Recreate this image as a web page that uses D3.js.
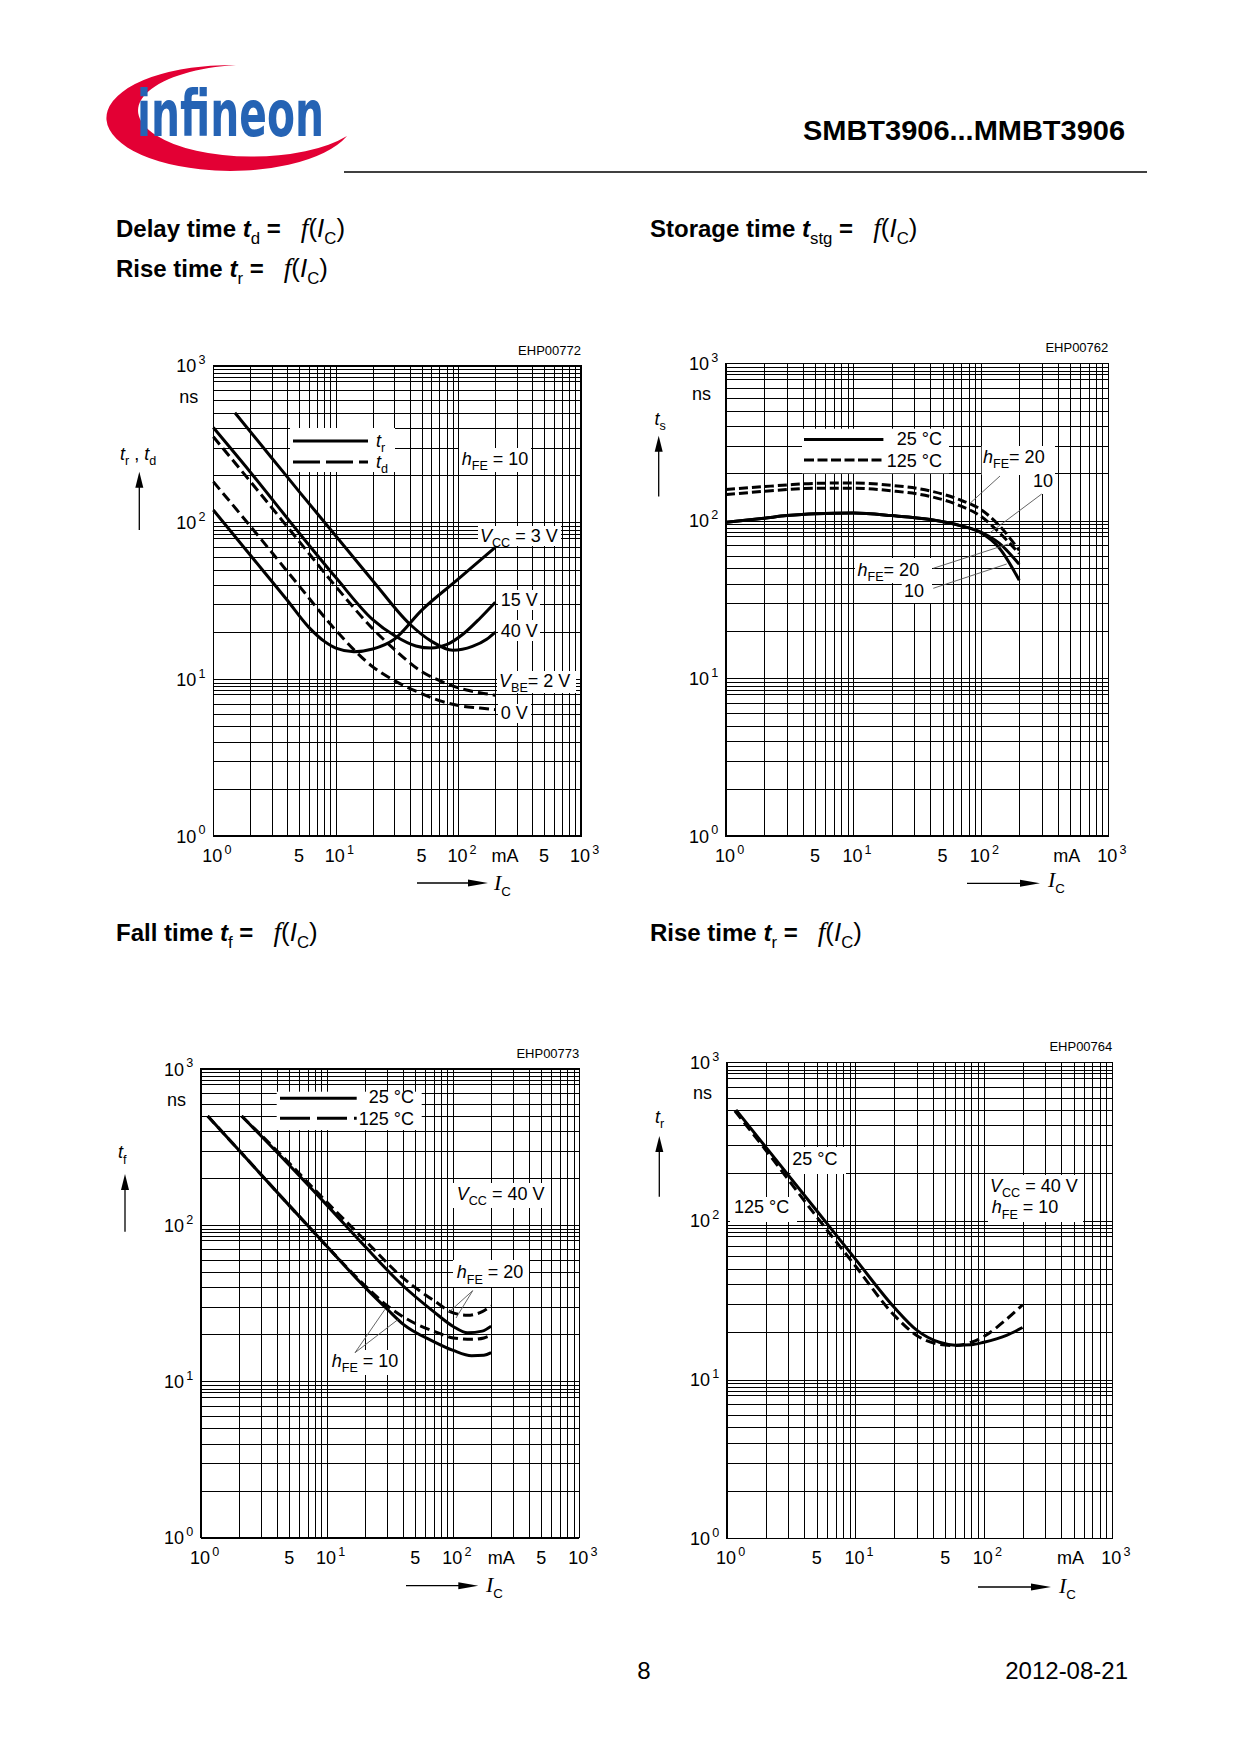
<!DOCTYPE html>
<html>
<head>
<meta charset="utf-8">
<script src="https://cdn.jsdelivr.net/npm/d3@7"></script>
<style>
body { margin: 0; background: #fff; }
svg text { font-family: "Liberation Sans", Arial, sans-serif; fill: #000; }
</style>
</head>
<body>
<svg id="page"></svg>
<script>
// all x values are I_C in mA, all y values are switching times in ns

// delay / rise time, hFE = 10  (EHP00772)
let tr3V  = [[1,120],[2,62],[4,32],[6,21.5],[8,17.5],[10,15.8],[14,15],[20,15.6],[30,18],[50,27.5],[100,43.6],[200,69.5]]
let tr15V = [[1,403],[2,210],[5,86],[10,44.5],[20,24],[30,19],[45,16.3],[60,15.8],[80,16.6],[110,19.5],[150,24.5],[200,31]]
let tr40V = [[1.5,501],[3,258],[5,158],[10,82],[20,42.5],[40,22.5],[60,17.5],[90,15.3],[130,16.2],[170,18],[200,20]]
let td2V  = [[1,352],[2,183],[5,76],[10,39],[20,21],[30,15.5],[50,11.2],[70,9.8],[100,8.8],[150,8.2],[200,7.9]]
let td0V  = [[1,182],[2,95],[5,39.5],[10,20.5],[20,12],[30,9.8],[50,8.1],[70,7.3],[100,6.8],[150,6.55],[200,6.4]]

// storage time (EHP00762)
let icStg    = [1, 2, 3, 5, 10, 20, 40, 70, 100, 140, 200]
let ts25h20  = [98, 104, 108, 111, 112, 108, 102, 93, 85, 72, 53]
let ts25h10  = [98, 104, 108, 111, 112, 108, 102, 93, 84, 67, 42]
let ts125h20 = [158, 165, 169, 173, 174, 168, 155, 135, 118, 93, 65]
let ts125h10 = [147, 154, 158, 161, 161, 155, 143, 124, 107, 84, 62]

// fall time, VCC = 40 V (EHP00773)
let tf25h10  = [[1.13,500],[2,302],[5,134],[10,73],[20,40],[30,29],[40,23.3],[70,18],[100,15.8],[140,14.6],[175,14.7],[200,15.3]]
let tf125h10 = [[1.13,500],[2,302],[5,134],[10,73],[20,41],[30,30.5],[50,23.5],[70,21],[100,19],[140,18.6],[175,19],[200,19.8]]
let tf25h20  = [[2.1,500],[5,243],[10,134],[20,73],[40,41],[70,28],[100,22.5],[130,20.5],[170,21],[200,22.6]]
let tf125h20 = [[2.1,500],[5,250],[10,140],[20,80],[40,46],[70,33],[100,27.5],[130,26.5],[170,28],[200,30.4]]

// rise time, VCC = 40 V, hFE = 10 (EHP00764)
let tr25  = [[1.175,501],[2,293],[5,116],[10,57.5],[20,28.6],[30,20.5],[45,17.2],[60,16.5],[80,16.6],[100,17.2],[150,19],[200,21.3]]
let tr125 = [[1.15,495],[2,280],[5,106],[10,52],[20,25.5],[30,19],[45,16.7],[60,16.4],[80,17.2],[100,18.7],[150,24],[200,29.6]]

// log grid and tick labels
let decades = [1, 10, 100, 1000]
let vGrid = []
decades.slice(0, 3).forEach(d => { for (let m = 1; m < 10; m++) vGrid.push(m * d) })
vGrid.push(1000)
let hGrid = vGrid.concat([8.5, 9.5, 85, 95, 850, 950])

let svg = d3.select('#page').attr('width', 1240).attr('height', 1754)

// text with italic / sub / sup pieces
let rich = (g, x, y, parts, size, anchor) => {
    let t = g.append('text').attr('x', x).attr('y', y)
        .attr('font-size', size).attr('text-anchor', anchor || 'start')
    let shift = 0
    parts.forEach(([s, k]) => {
        let ks = (k || '').split(' ')
        let sp = t.append('tspan').text(s)
        let want = ks.includes('sub') ? size * 0.3 : ks.includes('sup') ? -size * 0.45 : 0
        sp.attr('dy', want - shift)
        shift = want
        if (ks.includes('sub') || ks.includes('sup')) sp.attr('font-size', size * 0.7)
        if (ks.includes('sup')) sp.attr('dx', size * 0.12)
        if (ks.includes('big')) sp.attr('font-size', size * 1.08)
        if (ks.includes('i')) sp.attr('font-style', 'italic')
        if (ks.includes('b')) sp.attr('font-weight', 'bold')
        if (ks.includes('f')) sp.style('font-family', '"Liberation Serif", serif')
            .attr('font-style', 'italic').attr('font-size', size * 1.15)
    })
    return t
}

let upArrow = (x, y0, y1) => {
    svg.append('line').attr('x1', x).attr('x2', x).attr('y1', y0).attr('y2', y1 + 10)
        .attr('stroke', '#000').attr('stroke-width', 1.3)
    svg.append('polygon').attr('points', `${x},${y1} ${x - 4},${y1 + 16} ${x + 4},${y1 + 16}`)
}
let rightArrow = (x0, x1, y) => {
    svg.append('line').attr('x1', x0).attr('x2', x1 - 10).attr('y1', y).attr('y2', y)
        .attr('stroke', '#000').attr('stroke-width', 1.3)
    svg.append('polygon').attr('points', `${x1},${y} ${x1 - 20},${y - 3.5} ${x1 - 20},${y + 3.5}`)
}

let hfe = n => [['h', 'i'], ['FE', 'sub'], [' = ' + n, '']]
let hfeTight = n => [['h', 'i'], ['FE', 'sub'], ['= ' + n, '']]
let vcc = v => [['V', 'i'], ['CC', 'sub'], [' = ' + v, '']]

let charts = [
    {
        code: 'EHP00772', l: 213.3, r: 581, t: 365.7, b: 836, fives: [5, 50, 500], unitAt: 240,
        series: [
            { pts: tr3V }, { pts: tr15V }, { pts: tr40V },
            { pts: td2V, dash: '10,5' }, { pts: td0V, dash: '10,5' }
        ],
        boxes: [[290, 428, 395, 472], [459, 448, 531, 472], [478, 526, 561, 546],
                [498, 590, 540, 610], [498, 620, 540, 641], [497, 671, 576, 693], [498, 704, 531, 723]],
        legend: [{ x0: 293, x1: 368, y: 441 }, { x0: 293, x1: 368, y: 462, dash: '27,6' }],
        labels: [
            { x: 376, y: 446.7, p: [['t', 'i'], ['r', 'sub']] },
            { x: 376, y: 467.5, p: [['t', 'i'], ['d', 'sub']] },
            { x: 461.7, y: 465, p: hfe(10) },
            { x: 480, y: 541.7, p: vcc('3 V') },
            { x: 500.7, y: 606, p: [['15 V', '']] },
            { x: 500.7, y: 636.7, p: [['40 V', '']] },
            { x: 499, y: 686.7, p: [['V', 'i'], ['BE', 'sub'], ['= 2 V', '']] },
            { x: 500.7, y: 719, p: [['0 V', '']] }
        ],
        leaders: [],
        yTitle: { x: 120, y: 460, p: [['t', 'i'], ['r', 'sub'], [' , ', ''], ['t', 'i'], ['d', 'sub']] },
        yArrow: [139.3, 530, 471.7], xArrow: [417, 488, 883], icAt: [494, 890]
    },
    {
        code: 'EHP00762', l: 726, r: 1108.3, t: 363.3, b: 836, fives: [5, 50], unitAt: 472,
        series: [
            { pts: d3.zip(icStg, ts25h20) }, { pts: d3.zip(icStg, ts25h10) },
            { pts: d3.zip(icStg, ts125h20), dash: '9,4' }, { pts: d3.zip(icStg, ts125h10), dash: '9,4' }
        ],
        boxes: [[802, 428.7, 949, 473.3], [981.7, 446, 1055, 475], [1020, 475, 1057, 494],
                [855, 558, 932, 583], [901.7, 583, 932, 603]],
        legend: [{ x0: 804, x1: 883.4, y: 439.4 }, { x0: 804, x1: 883.4, y: 460, dash: '10,3.5' }],
        labels: [
            { x: 942, y: 444.8, p: [['25 °C', '']], a: 'end' },
            { x: 942, y: 467.3, p: [['125 °C', '']], a: 'end' },
            { x: 983, y: 463, p: hfeTight(20) },
            { x: 1033, y: 486.7, p: [['10', '']] },
            { x: 857.5, y: 575.5, p: hfeTight(20) },
            { x: 904, y: 597.3, p: [['10', '']] }
        ],
        leaders: [[1000, 476, 970, 503.3], [1041.7, 494, 990, 532.7],
                  [933.3, 568.3, 1008.3, 544], [933.3, 588.3, 1006.7, 564]],
        yTitle: { x: 654.6, y: 425, p: [['t', 'i'], ['s', 'sub']] },
        yArrow: [658.7, 496.5, 435.8], xArrow: [967, 1040, 883.3], icAt: [1048, 887]
    },
    {
        code: 'EHP00773', l: 201, r: 579.3, t: 1069, b: 1537.7, fives: [5, 50, 500], unitAt: 240,
        series: [
            { pts: tf25h10 }, { pts: tf125h10, dash: '10,5' },
            { pts: tf25h20 }, { pts: tf125h20, dash: '10,5' }
        ],
        boxes: [[276.7, 1091.7, 421.7, 1130], [453, 1183, 548, 1208], [453, 1260, 529, 1287],
                [329, 1350, 403, 1375]],
        legend: [{ x0: 280, x1: 356.7, y: 1098.3 }, { x0: 280, x1: 356.7, y: 1118.3, dash: '30,7' }],
        labels: [
            { x: 414, y: 1103.3, p: [['25 °C', '']], a: 'end' },
            { x: 414, y: 1125, p: [['125 °C', '']], a: 'end' },
            { x: 456.7, y: 1200, p: vcc('40 V') },
            { x: 456.7, y: 1278.3, p: hfe(20) },
            { x: 331.7, y: 1366.7, p: hfe(10) }
        ],
        leaders: [[472.7, 1290.7, 448.3, 1312.7], [472.7, 1290.7, 456, 1318],
                  [355, 1352.7, 385, 1309.3], [355, 1352.7, 398.3, 1319.3]],
        yTitle: { x: 118, y: 1158.3, p: [['t', 'i'], ['f', 'sub']] },
        yArrow: [125, 1231.7, 1174], xArrow: [406, 478.3, 1585.7], icAt: [486, 1592]
    },
    {
        code: 'EHP00764', l: 727, r: 1112.3, t: 1062.3, b: 1538.3, fives: [5, 50], unitAt: 472,
        series: [{ pts: tr25 }, { pts: tr125, dash: '10,5' }],
        boxes: [[790.5, 1147, 846, 1174], [730, 1197, 797, 1222], [988, 1175, 1083, 1222]],
        legend: [],
        labels: [
            { x: 792.3, y: 1165, p: [['25 °C', '']] },
            { x: 734, y: 1213.3, p: [['125 °C', '']] },
            { x: 990, y: 1191.7, p: vcc('40 V') },
            { x: 991.7, y: 1213.3, p: hfe(10) }
        ],
        leaders: [],
        yTitle: { x: 655, y: 1123, p: [['t', 'i'], ['r', 'sub']] },
        yArrow: [659.3, 1196.7, 1136], xArrow: [978, 1051, 1587], icAt: [1059, 1593]
    }
]

let drawChart = (c) => {
    let g = svg.append('g')
    let x = d3.scaleLog().domain([1, 1000]).range([c.l, c.r])
    let y = d3.scaleLog().domain([1, 1000]).range([c.b, c.t])

    // grid from the axes' tick lines
    let grid = g.append('g').attr('shape-rendering', 'crispEdges')
    grid.append('g').attr('transform', `translate(0,${c.b})`)
        .call(d3.axisBottom(x).tickValues(vGrid).tickSize(-(c.b - c.t)).tickFormat(''))
        .call(a => a.select('.domain').remove())
    grid.append('g').attr('transform', `translate(${c.l},0)`)
        .call(d3.axisLeft(y).tickValues(hGrid).tickSize(-(c.r - c.l)).tickFormat(''))
        .call(a => a.select('.domain').remove())
    grid.selectAll('.tick line').attr('stroke', '#000').attr('stroke-width', 1)
    grid.append('rect').attr('x', c.l).attr('y', c.t).attr('width', c.r - c.l).attr('height', c.b - c.t)
        .attr('fill', 'none').attr('stroke', '#000').attr('stroke-width', 1.5)

    // white backgrounds behind labels
    c.boxes.forEach(([x0, y0, x1, y1]) => {
        g.append('rect').attr('x', x0).attr('y', y0).attr('width', x1 - x0).attr('height', y1 - y0)
            .attr('fill', '#fff')
    })

    let line = d3.line().x(d => x(d[0])).y(d => y(d[1])).curve(d3.curveMonotoneX)
    c.series.forEach(s => {
        g.append('path').attr('d', line(s.pts)).attr('fill', 'none')
            .attr('stroke', '#000').attr('stroke-width', 3)
            .attr('stroke-dasharray', s.dash || null)
    })

    c.legend.forEach(l => {
        g.append('line').attr('x1', l.x0).attr('x2', l.x1).attr('y1', l.y).attr('y2', l.y)
            .attr('stroke', '#000').attr('stroke-width', 3).attr('stroke-dasharray', l.dash || null)
    })
    c.leaders.forEach(([x0, y0, x1, y1]) => {
        g.append('line').attr('x1', x0).attr('y1', y0).attr('x2', x1).attr('y2', y1)
            .attr('stroke', '#555').attr('stroke-width', 0.9)
    })
    c.labels.forEach(l => rich(g, l.x, l.y, l.p, 18, l.a))

    // tick labels
    decades.forEach(v => {
        let e = String(Math.round(Math.log10(v)))
        rich(g, c.l - 37, y(v) + 6.5, [['10', ''], [e, 'sup']], 18)
        rich(g, x(v) - 11, c.b + 26, [['10', ''], [e, 'sup']], 18)
    })
    c.fives.forEach(v => rich(g, x(v), c.b + 26, [['5', '']], 18, 'middle'))
    rich(g, x(c.unitAt), c.b + 26, [['mA', '']], 18, 'middle')
    rich(g, c.l - 34, c.t + 37, [['ns', '']], 18)
    g.append('text').attr('x', c.r).attr('y', c.t - 11).attr('text-anchor', 'end')
        .attr('font-size', 13).text(c.code)

    rich(g, c.yTitle.x, c.yTitle.y, c.yTitle.p, 18)
    upArrow(...c.yArrow)
    rightArrow(...c.xArrow)
    rich(g, c.icAt[0], c.icAt[1], [['I', 'f'], ['C', 'sub']], 19)
}

charts.forEach(drawChart)

// page headings
let fIc = [['\u00a0=\u00a0\u00a0\u00a0', 'b'], ['f', 'f'], ['(', 'big'], ['I', 'i big'], ['C', 'sub'], [')', 'big']]
let headings = [
    { x: 116, y: 237, p: [['Delay time ', 'b'], ['t', 'i b'], ['d', 'sub']].concat(fIc) },
    { x: 116, y: 277, p: [['Rise time ', 'b'], ['t', 'i b'], ['r', 'sub']].concat(fIc) },
    { x: 650, y: 237, p: [['Storage time ', 'b'], ['t', 'i b'], ['stg', 'sub']].concat(fIc) },
    { x: 116, y: 941, p: [['Fall time ', 'b'], ['t', 'i b'], ['f', 'sub']].concat(fIc) },
    { x: 650, y: 941, p: [['Rise time ', 'b'], ['t', 'i b'], ['r', 'sub']].concat(fIc) }
]
headings.forEach(h => rich(svg, h.x, h.y, h.p, 24))

// header: logo, part number, rule
svg.append('path')
    .attr('d', 'M236,65 A124,53 0 1 0 347,136 A114,46 0 1 1 236,65 Z')
    .attr('fill', '#e30034')
svg.append('text').attr('x', 137).attr('y', 136)
    .attr('textLength', 187).attr('lengthAdjust', 'spacingAndGlyphs')
    .style('font-family', '"DejaVu Sans Condensed", "Liberation Sans Narrow", sans-serif')
    .attr('font-weight', 'bold').attr('font-size', 64).style('fill', '#2563b4')
    .text('infineon')
svg.append('text').attr('x', 1125).attr('y', 140).attr('text-anchor', 'end')
    .attr('font-size', 27).attr('font-weight', 'bold')
    .attr('textLength', 322).attr('lengthAdjust', 'spacingAndGlyphs')
    .text('SMBT3906...MMBT3906')
svg.append('line').attr('x1', 344).attr('x2', 1147).attr('y1', 172).attr('y2', 172)
    .attr('stroke', '#000').attr('stroke-width', 1.5)

// footer
svg.append('text').attr('x', 644).attr('y', 1679).attr('text-anchor', 'middle')
    .attr('font-size', 24).text('8')
svg.append('text').attr('x', 1128).attr('y', 1679).attr('text-anchor', 'end')
    .attr('font-size', 24).text('2012-08-21')
</script>
</body>
</html>
